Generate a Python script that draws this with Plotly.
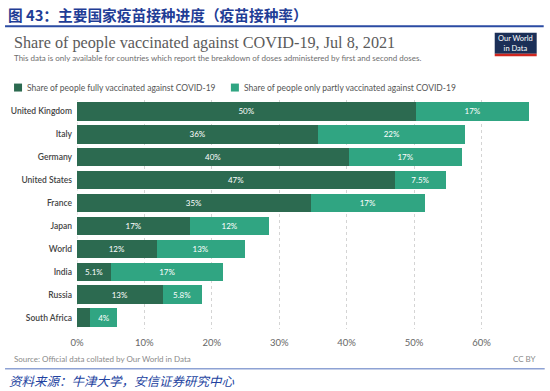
import plotly.graph_objects as go

countries = ["United Kingdom", "Italy", "Germany", "United States", "France",
             "Japan", "World", "India", "Russia", "South Africa"]
fully = [50.3, 35.8, 40.4, 47.2, 34.7, 16.8, 11.8, 5.1, 12.7, 2.0]
partly = [16.8, 21.8, 16.7, 7.5, 16.9, 11.7, 13.1, 16.6, 5.8, 4.0]
tick_vals = [0, 10, 20, 30, 40, 50, 60]
tick_text = ["0%", "10%", "20%", "30%", "40%", "50%", "60%"]

name_full = "Share of people fully vaccinated against COVID-19"
name_part = "Share of people only partly vaccinated against COVID-19"

C_FULL = "#2c6a50"
C_PART = "#30a582"


def lab(v, min_show=3):
    if v < min_show:
        return ""
    if v >= 10:
        return f"{int(v + 0.5):d}%"
    s = f"{v:.1f}".rstrip("0").rstrip(".")
    return s + "%"


W, H = 550, 391
X0, X1 = 77, 532.3
Y0, Y1 = 99.5, 329.5
XR = 67.5


def px(x):
    return (x - X0) / (X1 - X0)


def py(y):
    return (Y1 - y) / (Y1 - Y0)


fig = go.Figure()
fig.add_trace(go.Bar(
    y=countries, x=fully, orientation="h", name=name_full,
    marker=dict(color=C_FULL, line=dict(width=0)),
    text=[lab(v) for v in fully], textposition="inside",
    insidetextanchor="middle", textangle=0,
    textfont=dict(family="Lato", size=8, color="white"),
))
fig.add_trace(go.Bar(
    y=countries, x=partly, orientation="h", name=name_part,
    marker=dict(color=C_PART, line=dict(width=0)),
    text=[lab(v) for v in partly], textposition="inside",
    insidetextanchor="middle", textangle=0,
    textfont=dict(family="Lato", size=8, color="white"),
))

shapes = []
annotations = []

# header
annotations.append(dict(
    text="<b>图 43：主要国家疫苗接种进度（疫苗接种率）</b>",
    xref="paper", yref="paper", x=px(6), y=py(14), xanchor="left", yanchor="middle",
    showarrow=False, font=dict(family="Noto Sans CJK SC", size=14.7, color="#1f3d96")))
shapes.append(dict(type="line", xref="paper", yref="paper",
                   x0=px(5), x1=px(544), y0=py(25.5), y1=py(25.5),
                   line=dict(color="#2b4ba3", width=2)))

# title / subtitle
annotations.append(dict(
    text="Share of people vaccinated against COVID-19, Jul 8, 2021",
    xref="paper", yref="paper", x=px(12), y=py(42), xanchor="left", yanchor="middle",
    showarrow=False, font=dict(family="Liberation Serif", size=16.2, color="#5b5b5b")))
annotations.append(dict(
    text="This data is only available for countries which report the breakdown of doses administered by first and second doses.",
    xref="paper", yref="paper", x=px(12), y=py(57), xanchor="left", yanchor="middle",
    showarrow=False, font=dict(family="Lato", size=8, color="#6e6e6e")))

# logo
shapes.append(dict(type="rect", xref="paper", yref="paper",
                   x0=px(495), x1=px(537), y0=py(32), y1=py(53),
                   fillcolor="#1b2f57", line=dict(width=0)))
shapes.append(dict(type="rect", xref="paper", yref="paper",
                   x0=px(495), x1=px(537), y0=py(53), y1=py(55.5),
                   fillcolor="#d0261f", line=dict(width=0)))
annotations.append(dict(
    text="Our World<br>in Data", xref="paper", yref="paper",
    x=px(516), y=py(42.5), xanchor="center", yanchor="middle", showarrow=False,
    font=dict(family="Lato", size=7.5, color="white")))

# legend (drawn manually)
for sx, col, txt in [(14, C_FULL, name_full), (231, C_PART, name_part)]:
    shapes.append(dict(type="rect", xref="paper", yref="paper",
                       x0=px(sx), x1=px(sx + 8), y0=py(83), y1=py(91),
                       fillcolor=col, line=dict(width=0)))
    annotations.append(dict(
        text=txt, xref="paper", yref="paper", x=px(sx + 11), y=py(87),
        xanchor="left", yanchor="middle", showarrow=False,
        font=dict(family="Lato", size=8.5, color="#555")))

# footer
annotations.append(dict(
    text="Source: Official data collated by Our World in Data",
    xref="paper", yref="paper", x=px(12), y=py(360), xanchor="left", yanchor="middle",
    showarrow=False, font=dict(family="Lato", size=8, color="#8a8a8a")))
annotations.append(dict(
    text="CC BY", xref="paper", yref="paper", x=px(538), y=py(360),
    xanchor="right", yanchor="middle", showarrow=False,
    font=dict(family="Lato", size=8, color="#8a8a8a")))
shapes.append(dict(type="line", xref="paper", yref="paper",
                   x0=px(5), x1=px(545), y0=py(369.5), y1=py(369.5),
                   line=dict(color="#8ea2d4", width=1.5)))
annotations.append(dict(
    text="<i>资料来源：牛津大学，安信证券研究中心</i>",
    xref="paper", yref="paper", x=px(7), y=py(381), xanchor="left", yanchor="middle",
    showarrow=False, font=dict(family="Noto Sans CJK SC", size=12.5, color="#2242a0",
                               style="italic")))

# faint baseline at 0%
shapes.append(dict(type="line", xref="x", yref="paper", x0=0, x1=0, y0=0, y1=1,
                   line=dict(color="#d4d4d4", width=1, dash="dot"), layer="below"))

fig.update_layout(
    width=W, height=H,
    margin=dict(l=X0, r=W - X1, t=Y0, b=H - Y1, pad=0),
    barmode="stack", bargap=0.2,
    plot_bgcolor="white", paper_bgcolor="white",
    showlegend=False,
    shapes=shapes, annotations=annotations,
    uniformtext=dict(mode=False),
    xaxis=dict(range=[0, XR], tickvals=tick_vals, ticktext=tick_text,
               showgrid=True, gridcolor="#d4d4d4", griddash="dot", gridwidth=1,
               zeroline=False, showline=False, ticks="", ticklabelstandoff=6,
               tickfont=dict(family="Lato", size=9.5, color="#666"), fixedrange=True),
    yaxis=dict(categoryorder="array", categoryarray=countries, autorange="reversed",
               showgrid=False, zeroline=False, showline=False, ticks="",
               ticklabelstandoff=4, fixedrange=True,
               tickfont=dict(family="Lato", size=8.5, color="#444", weight=600)),
)

fig.write_html("out.html",
               config={"displayModeBar": False, "staticPlot": True},
               post_script="document.body.style.margin='0';document.body.style.overflow='hidden';")
